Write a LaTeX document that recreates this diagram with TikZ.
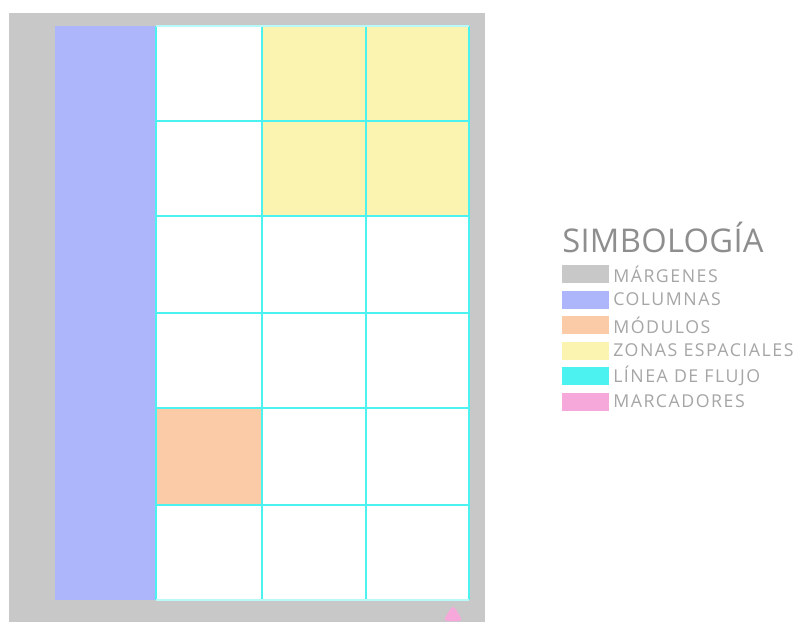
\documentclass[tikz,border=0pt]{standalone}
\usepackage{fontspec}
\setmainfont{Open Sans}
\definecolor{margen}{HTML}{C8C8C8}
\definecolor{colum}{HTML}{ADB6FB}
\definecolor{modulo}{HTML}{FACBA6}
\definecolor{zona}{HTML}{FBF3B0}
\definecolor{flujo}{HTML}{4CF2F0}
\definecolor{marca}{HTML}{F7A8DA}
\definecolor{txt}{HTML}{A6A6A6}
\definecolor{ttl}{HTML}{8E8E8E}
\begin{document}
\begin{tikzpicture}[x=0.75pt,y=-0.75pt,
  swatch/.style={minimum width=35.25pt,minimum height=13.5pt,inner sep=0pt,outer sep=0pt,anchor=west},
  legtext/.style={anchor=west,inner sep=0pt,text=txt,font=\fontsize{13.3}{15}\selectfont\addfontfeature{LetterSpace=8.5}},
  gridline/.style={draw=flujo,line width=1.2pt}]
\useasboundingbox (0,0) rectangle (800,625);
\fill[white] (0,0) rectangle (800,625);
% margins
\fill[margen] (9,13) rectangle (485,622);
% column
\fill[colum] (55,26) rectangle (156,600);
% grid area
\fill[white] (156,26) rectangle (469,600);
\fill[zona] (262,26) rectangle (469,216);
\fill[modulo] (156,408) rectangle (262,505);
% flow lines
\foreach \x in {156,262,366,469} \draw[gridline] (\x,26) -- (\x,600);
\foreach \y in {121,216,313,408,505} \draw[gridline] (156,\y) -- (469,\y);
\draw[draw=flujo!40!white,line width=0.8pt] (156,26) -- (469,26) (156,600) -- (469,600);
% marker
\fill[marca,rounded corners=3pt] (443,621) -- (453,605) -- (463,621) -- cycle;
% legend
\node[anchor=west,inner sep=0pt,text=ttl,font=\fontsize{24.5}{27}\selectfont\addfontfeature{LetterSpace=1}] (title) at (562,237) {SIMBOLOGÍA};
\foreach \i/\c/\t in {0/margen/MÁRGENES,1/colum/COLUMNAS,2/modulo/MÓDULOS,3/zona/ZONAS ESPACIALES,4/flujo/LÍNEA DE FLUJO,5/marca/MARCADORES}{
  \node[swatch,fill=\c] (sw\i) at (562,274+25.5*\i) {};
  \node[legtext] (lt\i) at (613,274+25.5*\i) {\t};
}
\end{tikzpicture}
\end{document}
